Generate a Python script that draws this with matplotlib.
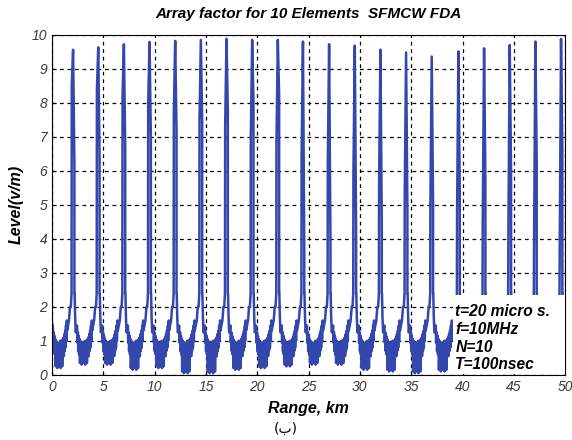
import numpy as np
import matplotlib.pyplot as plt
from matplotlib.patches import Rectangle

# main lobes (km, level)
peak_km = [2.05, 4.5, 7.0, 9.5, 12.0, 14.5, 17.0, 19.5, 22.0, 24.45,
           27.0, 29.5, 32.0, 34.5, 37.0, 39.6, 42.1, 44.6, 47.1, 49.6]
peak_lvl = [9.56, 9.63, 9.72, 9.79, 9.82, 9.85, 9.88, 9.85, 9.85, 9.80,
            9.72, 9.68, 9.56, 9.48, 9.36, 9.51, 9.60, 9.70, 9.80, 9.88]
# where the left / right flank of each lobe splits off
step_left = [8.53, 8.33, 8.19, 7.99, 7.75, 7.5, 7.3, 7.0, 6.8, 6.5,
             6.22, 5.93, 5.6, 5.3, 5.05, 4.76, 4.47, 4.17, 3.82, 3.53]
step_right = [6.13, 6.42, 6.67, 6.96, 7.2, 7.45, 7.75, 8.0, 8.2, 3.6,
              3.9, 4.2, 4.5, 4.8, 5.0, 5.39, 5.69, 5.98, 6.27, 6.57]
# deepest dip in the side-lobe floor before each peak
gap_min = [0.2, 0.3, 0.3, 0.15, 0.2, 0.05, 0.05, 0.15, 0.2, 0.25,
           0.3, 0.3, 0.15, 0.1, 0.05, 0.1, 0.3, 0.3, 0.3, 0.3]

# side-lobe floor as read across one gap (fraction of gap, upper, lower)
gap_u = [0.05, 0.10, 0.15, 0.20, 0.25, 0.30, 0.35, 0.40, 0.45,
         0.50, 0.55, 0.60, 0.65, 0.70, 0.75, 0.80, 0.85, 0.90]
gap_hi = [1.45, 1.25, 1.15, 1.05, 1.0, 0.95, 0.95, 0.9, 0.95,
          1.0, 1.0, 1.0, 1.05, 1.1, 1.2, 1.3, 1.45, 1.6]
gap_lo = [0.95, 0.7, 0.6, 0.3, 0.6, 0.25, 0.6, 0.3, 0.65,
          0.25, 0.6, 0.3, 0.6, 0.55, 0.7, 0.8, 1.0, 1.3]
# shoulders of each main lobe (km from peak, level)
before_d = [-0.40, -0.30, -0.22, -0.15]
before_lvl = [1.6, 2.0, 2.0, 2.4]
after_d = [0.15, 0.20, 0.26]
after_lvl = [2.4, 1.7, 1.25]

xs, ys = [0.0], [1.5]
prev = None
for i in range(len(peak_km)):
    pk = peak_km[i]
    if prev is not None:
        for d, l in zip(after_d, after_lvl):
            xs.append(prev + d); ys.append(l)
        a = prev + 0.3
    else:
        a = 0.0
    b = pk - 0.45
    shift = gap_min[i] - 0.25
    for u, hi, lo in zip(gap_u, gap_hi, gap_lo):
        x = a + u * (b - a)
        xs += [x, x + 0.03]
        ys += [hi, max(lo + shift, 0.02) if lo < 0.5 else lo]
    for d, l in zip(before_d, before_lvl):
        xs.append(pk + d); ys.append(l)
    xs += [pk - 0.13, pk, pk + 0.13, pk + 0.13]
    ys += [step_left[i], peak_lvl[i], step_right[i], 2.4]
    prev = pk
for d, l in zip(after_d, after_lvl):
    xs.append(prev + d); ys.append(l)
xs.append(50.0); ys.append(1.0)

fig = plt.figure(figsize=(5.72, 4.4), dpi=100)
ax = fig.add_axes([0.091, 0.148, 0.897, 0.773])
ax.plot(xs, ys, color='#3447ad', lw=1.8, zorder=2)

ax.set_xlim(0, 50)
ax.set_ylim(0, 10)
ax.set_xticks(np.arange(0, 51, 5))
ax.set_yticks(np.arange(0, 11, 1))
ax.grid(True, color='black', linestyle=(0, (3, 3)), lw=0.9, zorder=1)
ax.set_axisbelow(True)
ax.tick_params(direction='in', length=3, labelsize=10, labelcolor='#3a3a3a')
for lab in ax.get_xticklabels() + ax.get_yticklabels():
    lab.set_fontstyle('italic')
    lab.set_family('Liberation Sans')

ax.add_patch(Rectangle((39.1, 0.02), 10.85, 2.33, facecolor='white',
                       edgecolor='none', zorder=3))
info = "t=20 micro s.\nf=10MHz\nN=10\nT=100nsec"
ax.text(39.3, 0.08, info, fontsize=11.2, fontweight='bold', fontstyle='italic',
        family='Liberation Sans', va='bottom', ha='left', linespacing=1.22,
        zorder=4)

ax.set_title('Array factor for 10 Elements  SFMCW FDA', fontsize=11,
             fontweight='bold', fontstyle='italic', family='Liberation Sans', pad=12)
ax.set_xlabel('Range, km', fontsize=11.5, fontweight='bold', fontstyle='italic',
              family='Liberation Sans', labelpad=5)
ax.set_ylabel('Level(v/m)', fontsize=11.5, fontweight='bold', fontstyle='italic',
              family='Liberation Sans', labelpad=6)
fig.text(0.5, 0.025, '(ب)', ha='center', va='center', fontsize=10,
         family='DejaVu Sans')

fig.savefig('out.png', dpi=100)
